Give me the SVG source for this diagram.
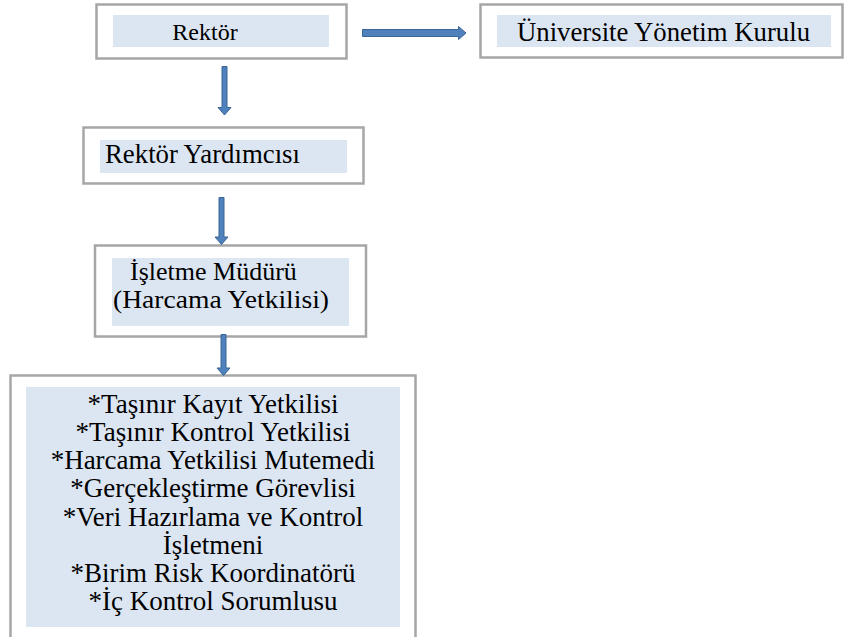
<svg xmlns="http://www.w3.org/2000/svg" width="847" height="637" viewBox="0 0 847 637">
<style>
.box{fill:#ffffff;stroke:#a6a6a6;stroke-width:2.5}
.fill{fill:#dce6f2}
text{font-family:'Liberation Serif','Times New Roman',Times,serif;font-size:27px;fill:#000000}
.arr{fill:#4f81bd;stroke:#3b6596;stroke-width:1}
</style>
<rect width="847" height="637" fill="#ffffff"/>
<g id="rektor">
<rect class="box" x="96.5" y="4.5" width="250" height="54"/>
<rect class="fill" x="113" y="15" width="216" height="32"/>
<text x="205" y="40" text-anchor="middle" style="font-size:24px">Rektör</text>
</g>
<g id="universite">
<rect class="box" x="480.5" y="4.5" width="362" height="53"/>
<rect class="fill" x="497" y="15" width="334" height="32"/>
<text x="517" y="41" textLength="293" lengthAdjust="spacingAndGlyphs">Üniversite Yönetim Kurulu</text>
</g>
<g id="rektor-yardimcisi">
<rect class="box" x="83.5" y="127.5" width="280" height="56"/>
<rect class="fill" x="100" y="140" width="247" height="33"/>
<text x="105" y="163" textLength="195" lengthAdjust="spacingAndGlyphs">Rektör Yardımcısı</text>
</g>
<g id="isletme-muduru">
<rect class="box" x="95" y="245.5" width="271" height="91"/>
<rect class="fill" x="112" y="258" width="237" height="68"/>
<text x="130" y="280" style="font-size:26px">İşletme Müdürü</text>
<text x="113" y="308" style="font-size:26px" textLength="216" lengthAdjust="spacingAndGlyphs">(Harcama Yetkilisi)</text>
</g>
<g id="gorevliler">
<rect class="box" x="10.5" y="375.5" width="405" height="280"/>
<rect class="fill" x="26" y="387" width="374" height="240"/>
<text x="213" y="413" text-anchor="middle">*Taşınır Kayıt Yetkilisi</text>
<text x="213" y="441" text-anchor="middle">*Taşınır Kontrol Yetkilisi</text>
<text x="213" y="469" text-anchor="middle">*Harcama Yetkilisi Mutemedi</text>
<text x="213" y="497" text-anchor="middle">*Gerçekleştirme Görevlisi</text>
<text x="213" y="526" text-anchor="middle">*Veri Hazırlama ve Kontrol</text>
<text x="213" y="554" text-anchor="middle">İşletmeni</text>
<text x="213" y="582" text-anchor="middle">*Birim Risk Koordinatörü</text>
<text x="213" y="610" text-anchor="middle">*İç Kontrol Sorumlusu</text>
</g>
<g id="connectors">
<path class="arr" d="M362.5,29.5 H458.5 V26.5 L466,33 L458.5,39.5 V36.5 H362.5 Z"/>
<path class="arr" d="M222,66.5 V107.5 H218 L224.5,115 L231,107.5 H227 V66.5 Z"/>
<path class="arr" d="M219,197.5 V237 H215 L221.5,244.5 L228,237 H224 V197.5 Z"/>
<path class="arr" d="M221,334.5 V368 H217 L223.5,375.5 L230,368 H226 V334.5 Z"/>
</g>
</svg>
